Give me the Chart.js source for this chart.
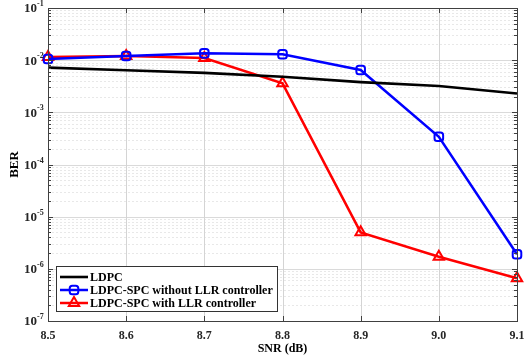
<!DOCTYPE html>
<html><head><meta charset="utf-8">
<script src="https://cdn.jsdelivr.net/npm/chart.js@4"></script>
<style>html,body{margin:0;padding:0;background:#fff}#wrap{width:525px;height:360px}</style>
</head><body><div id="wrap"><canvas id="c" width="525" height="360"></canvas></div>
<script>
const snr = [8.5, 8.6, 8.7, 8.8, 8.9, 9.0, 9.1];
const berLDPC = [7.2e-3, 6.4e-3, 5.7e-3, 4.8e-3, 3.8e-3, 3.2e-3, 2.3e-3];
const berNoCtrl = [1.05e-2, 1.2e-2, 1.35e-2, 1.3e-2, 6.5e-3, 3.4e-4, 1.9e-6];
const berCtrl = [1.15e-2, 1.2e-2, 1.1e-2, 3.6e-3, 5.0e-6, 1.7e-6, 6.6e-7];
const seriesNames = ['LDPC', 'LDPC-SPC without LLR controller', 'LDPC-SPC with LLR controller'];
const xTicks = [8.5, 8.6, 8.7, 8.8, 8.9, 9.0, 9.1];
const xTickLabels = ['8.5', '8.6', '8.7', '8.8', '8.9', '9.0', '9.1'];
const yExponents = [-1, -2, -3, -4, -5, -6, -7];
const xTitle = 'SNR (dB)';
const yTitle = 'BER';

const FONT = '"Liberation Serif","Times New Roman",serif';
const pts = arr => snr.map((v, i) => ({x: v, y: arr[i]}));

const framePlugin = {
  id: 'framePlugin',
  beforeDatasetsDraw(chart) {
    const {ctx, chartArea: a, scales: {x, y}} = chart;
    ctx.save();
    ctx.lineWidth = 1;
    ctx.strokeStyle = '#e8e8e8';
    ctx.setLineDash([2, 2]);
    for (let e = -7; e < -1; e++) {
      for (let m = 2; m <= 9; m++) {
        const py = Math.round(y.getPixelForValue(m * Math.pow(10, e))) + 0.5;
        ctx.beginPath(); ctx.moveTo(a.left, py); ctx.lineTo(a.right, py); ctx.stroke();
      }
    }
    ctx.setLineDash([]);
    ctx.strokeStyle = '#dadada';
    yExponents.forEach(e => {
      const py = Math.round(y.getPixelForValue(Math.pow(10, e))) + 0.5;
      ctx.beginPath(); ctx.moveTo(a.left, py); ctx.lineTo(a.right, py); ctx.stroke();
    });
    ctx.strokeStyle = '#d4d4d4';
    xTicks.forEach(v => {
      const px = Math.round(x.getPixelForValue(v)) + 0.5;
      ctx.beginPath(); ctx.moveTo(px, a.top); ctx.lineTo(px, a.bottom); ctx.stroke();
    });
    ctx.restore();
  },
  afterDraw(chart) {
    const {ctx, chartArea: a, scales: {x, y}} = chart;
    ctx.save();
    ctx.strokeStyle = '#404040';
    ctx.lineWidth = 1;
    ctx.beginPath();
    xTicks.forEach(v => {
      const px = Math.round(x.getPixelForValue(v)) + 0.5;
      ctx.moveTo(px, a.bottom); ctx.lineTo(px, a.bottom - 5);
      ctx.moveTo(px, a.top); ctx.lineTo(px, a.top + 5);
    });
    yExponents.forEach(e => {
      const py = Math.round(y.getPixelForValue(Math.pow(10, e))) + 0.5;
      ctx.moveTo(a.left, py); ctx.lineTo(a.left + 5, py);
      ctx.moveTo(a.right, py); ctx.lineTo(a.right - 5, py);
    });
    for (let e = -7; e < -1; e++) {
      for (let m = 2; m <= 9; m++) {
        const py = Math.round(y.getPixelForValue(m * Math.pow(10, e))) + 0.5;
        ctx.moveTo(a.left, py); ctx.lineTo(a.left + 3, py);
        ctx.moveTo(a.right, py); ctx.lineTo(a.right - 3, py);
      }
    }
    ctx.stroke();
    ctx.strokeRect(Math.round(a.left) + 0.5, Math.round(a.top) + 0.5, Math.round(a.right - a.left), Math.round(a.bottom - a.top));
    ctx.fillStyle = '#262626';
    yExponents.forEach(e => {
      const py = y.getPixelForValue(Math.pow(10, e));
      ctx.font = 'bold 13px ' + FONT;
      ctx.textAlign = 'right'; ctx.textBaseline = 'middle';
      ctx.fillText('10', 37, py + 1);
      ctx.font = 'bold 8px ' + FONT;
      ctx.textAlign = 'left';
      ctx.fillText(String(e), 37, py - 4);
    });
    // legend
    const lx = 56, ly = 266, lw = 221, lh = 45;
    ctx.fillStyle = '#fff';
    ctx.fillRect(lx, ly, lw, lh);
    ctx.strokeStyle = '#333';
    ctx.lineWidth = 1;
    ctx.strokeRect(lx + 0.5, ly + 0.5, lw, lh);
    const rows = [277, 290, 303];
    chart.data.datasets.forEach((ds, i) => {
      const ry = rows[i];
      ctx.strokeStyle = ds.borderColor;
      ctx.lineWidth = ds.borderWidth;
      ctx.beginPath(); ctx.moveTo(60, ry); ctx.lineTo(88, ry); ctx.stroke();
      if (ds.pointRadius > 0) {
        ctx.fillStyle = 'rgba(0,0,0,0)';
        ctx.strokeStyle = ds.borderColor;
        ctx.lineWidth = ds.pointBorderWidth;
        Chart.helpers.drawPoint(ctx, {pointStyle: ds.pointStyle, radius: ds.pointRadius, borderWidth: ds.pointBorderWidth, rotation: 0}, 74, ry);
      }
      ctx.fillStyle = '#000';
      ctx.font = 'bold 12px ' + FONT;
      ctx.textAlign = 'left'; ctx.textBaseline = 'middle';
      ctx.fillText(ds.label, 90, ry + 1);
    });
    ctx.restore();
  }
};

new Chart(document.getElementById('c'), {
  type: 'line',
  data: {
    datasets: [
      {label: seriesNames[0], data: pts(berLDPC), borderColor: '#000000', borderWidth: 2.6, pointRadius: 0, tension: 0, clip: false},
      {label: seriesNames[1], data: pts(berNoCtrl), borderColor: '#0000ff', borderWidth: 2.5, pointStyle: 'rectRounded', pointRadius: 5, pointBorderWidth: 2, pointBackgroundColor: 'rgba(0,0,0,0)', pointBorderColor: '#0000ff', tension: 0, clip: false},
      {label: seriesNames[2], data: pts(berCtrl), borderColor: '#ff0000', borderWidth: 2.5, pointStyle: 'triangle', pointRadius: 6, pointBorderWidth: 2, pointBackgroundColor: 'rgba(0,0,0,0)', pointBorderColor: '#ff0000', tension: 0, clip: false}
    ]
  },
  options: {
    responsive: false,
    animation: false,
    layout: {padding: {top: 8, right: 5, left: 0, bottom: 0}},
    plugins: {legend: {display: false}, tooltip: {enabled: false}},
    scales: {
      x: {
        type: 'linear', min: 8.5, max: 9.1,
        afterBuildTicks: s => { s.ticks = xTicks.map(v => ({value: v})); },
        afterFit: s => { s.height = 39; s.paddingLeft = 0; s.paddingRight = 0; },
        grid: {display: false, drawTicks: false},
        border: {display: false},
        ticks: {
          autoSkip: false, maxRotation: 0, padding: 8, color: '#262626',
          font: {family: FONT, size: 12, weight: 'bold'},
          callback: (v) => { const i = xTicks.findIndex(t => Math.abs(t - v) < 1e-6); return i >= 0 ? xTickLabels[i] : ''; }
        },
        title: {display: true, text: xTitle, color: '#000', font: {family: FONT, size: 12, weight: 'bold'}, padding: {top: 0, bottom: 4}}
      },
      y: {
        type: 'logarithmic', min: 1e-7, max: 1e-1,
        afterFit: s => { s.width = 48; },
        grid: {display: false, drawTicks: false},
        border: {display: false},
        ticks: {display: false},
        title: {display: true, text: yTitle, color: '#000', font: {family: FONT, size: 13, weight: 'bold'}, padding: {top: 7, bottom: 0}}
      }
    }
  },
  plugins: [framePlugin]
});
</script>
</body></html>
